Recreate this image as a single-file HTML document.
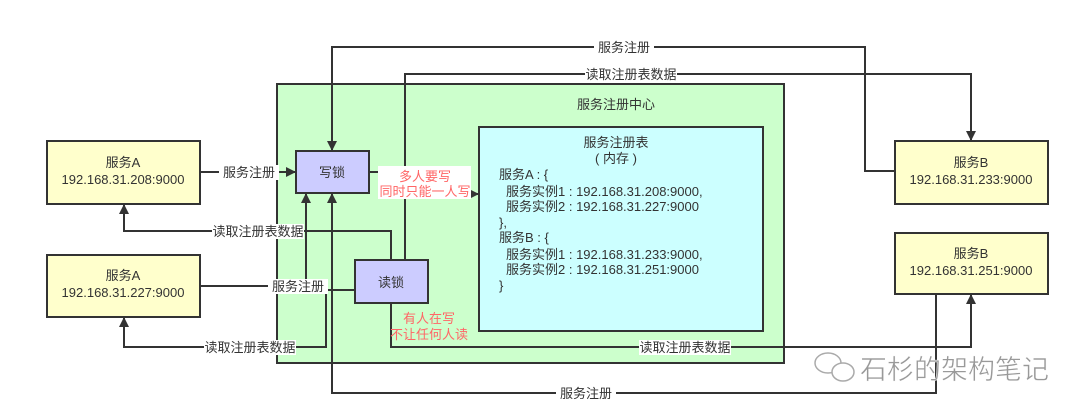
<!DOCTYPE html>
<html><head><meta charset="utf-8"><style>
html,body{margin:0;padding:0;background:#fff;}
svg{display:block;font-family:"Liberation Sans","Noto Sans CJK SC",sans-serif;}
</style></head><body>
<svg width="1080" height="412" viewBox="0 0 1080 412" xmlns="http://www.w3.org/2000/svg">
<defs>
<marker id="a" markerWidth="10" markerHeight="10" refX="9" refY="5" orient="auto" markerUnits="userSpaceOnUse">
<path d="M0,0 L10,5 L0,10 Z" fill="#333"/></marker>
</defs>
<rect x="277" y="84" width="507" height="279" fill="#ccffcc" stroke="#333" stroke-width="2"/>
<rect x="479" y="127" width="284" height="204" fill="#ccffff" stroke="#333" stroke-width="2"/>
<g fill="none" stroke="#333" stroke-width="2">
<polyline points="895,171 865,171 865,47 332,47 332,150" marker-end="url(#a)"/>
<polyline points="405,260 405,74 971,74 971,140" marker-end="url(#a)"/>
<polyline points="200,172 295,172" marker-end="url(#a)"/>
<polyline points="369,172 410,172 410,194 478,194" marker-end="url(#a)"/>
<polyline points="391,260 391,231 124,231 124,205" marker-end="url(#a)"/>
<polyline points="200,286 306,286 306,194" marker-end="url(#a)"/>
<polyline points="355,290 326,290 326,347 124,347 124,318" marker-end="url(#a)"/>
<polyline points="391,303 391,347 971,347 971,295" marker-end="url(#a)"/>
<polyline points="936,294 936,393 332,393 332,194" marker-end="url(#a)"/>
</g>
<g stroke="#333" stroke-width="2">
<rect x="47" y="141" width="153" height="63" fill="#ffffcc"/>
<rect x="47" y="255" width="153" height="62" fill="#ffffcc"/>
<rect x="895" y="141" width="153" height="63" fill="#ffffcc"/>
<rect x="895" y="233" width="153" height="61" fill="#ffffcc"/>
<rect x="296" y="151" width="73" height="42" fill="#ccccff"/>
<rect x="355" y="260" width="73" height="43" fill="#ccccff"/>
</g>
<g font-size="13" fill="#333" text-anchor="middle">
<text x="123" y="167">服务A</text><text x="123" y="184">192.168.31.208:9000</text>
<text x="123" y="280">服务A</text><text x="123" y="297">192.168.31.227:9000</text>
<text x="971" y="167">服务B</text><text x="971" y="184">192.168.31.233:9000</text>
<text x="971" y="258">服务B</text><text x="971" y="275">192.168.31.251:9000</text>
<text x="332" y="177">写锁</text>
<text x="391" y="287">读锁</text>
<text x="616" y="109">服务注册中心</text>
<text x="616" y="147">服务注册表</text>
<text x="616" y="163">( 内存 )</text>
</g>
<g font-size="13" fill="#333">
<text x="499" y="179">服务A : {</text>
<text x="506" y="196">服务实例1 : 192.168.31.208:9000,</text>
<text x="506" y="211">服务实例2 : 192.168.31.227:9000</text>
<text x="499" y="227">},</text>
<text x="499" y="242">服务B : {</text>
<text x="506" y="259">服务实例1 : 192.168.31.233:9000,</text>
<text x="506" y="274">服务实例2 : 192.168.31.251:9000</text>
<text x="499" y="290">}</text>
</g>
<g font-size="13" fill="#333" text-anchor="middle">
<rect x="594" y="40" width="60" height="15" fill="#fff"/><text x="624" y="52">服务注册</text>
<rect x="585" y="67" width="92" height="15" fill="#fff"/><text x="631" y="79">读取注册表数据</text>
<rect x="219" y="165" width="60" height="15" fill="#fff"/><text x="249" y="177">服务注册</text>
<rect x="212" y="224" width="92" height="15" fill="#fff"/><text x="258" y="236">读取注册表数据</text>
<rect x="268" y="279" width="60" height="15" fill="#fff"/><text x="298" y="291">服务注册</text>
<rect x="204" y="340" width="92" height="15" fill="#fff"/><text x="250" y="352">读取注册表数据</text>
<rect x="639" y="340" width="92" height="15" fill="#fff"/><text x="685" y="352">读取注册表数据</text>
<rect x="556" y="386" width="60" height="15" fill="#fff"/><text x="586" y="398">服务注册</text>
</g>
<rect x="378" y="166" width="93" height="33" fill="#fff"/>
<g font-size="13" fill="#ff6666" text-anchor="middle">
<text x="425" y="181">多人要写</text><text x="425" y="196">同时只能一人写</text>
<text x="429" y="323">有人在写</text><text x="429" y="339">不让任何人读</text>
</g>
<g fill="none" stroke="#aaa" stroke-width="1.5">
<ellipse cx="828" cy="363" rx="13" ry="10"/>
<ellipse cx="843" cy="372" rx="11" ry="9" fill="#fff"/>
</g>
<text x="860" y="379" font-size="27" fill="#999" stroke="#fff" stroke-width="0.5">石杉的架构笔记</text>
</svg>
</body></html>
